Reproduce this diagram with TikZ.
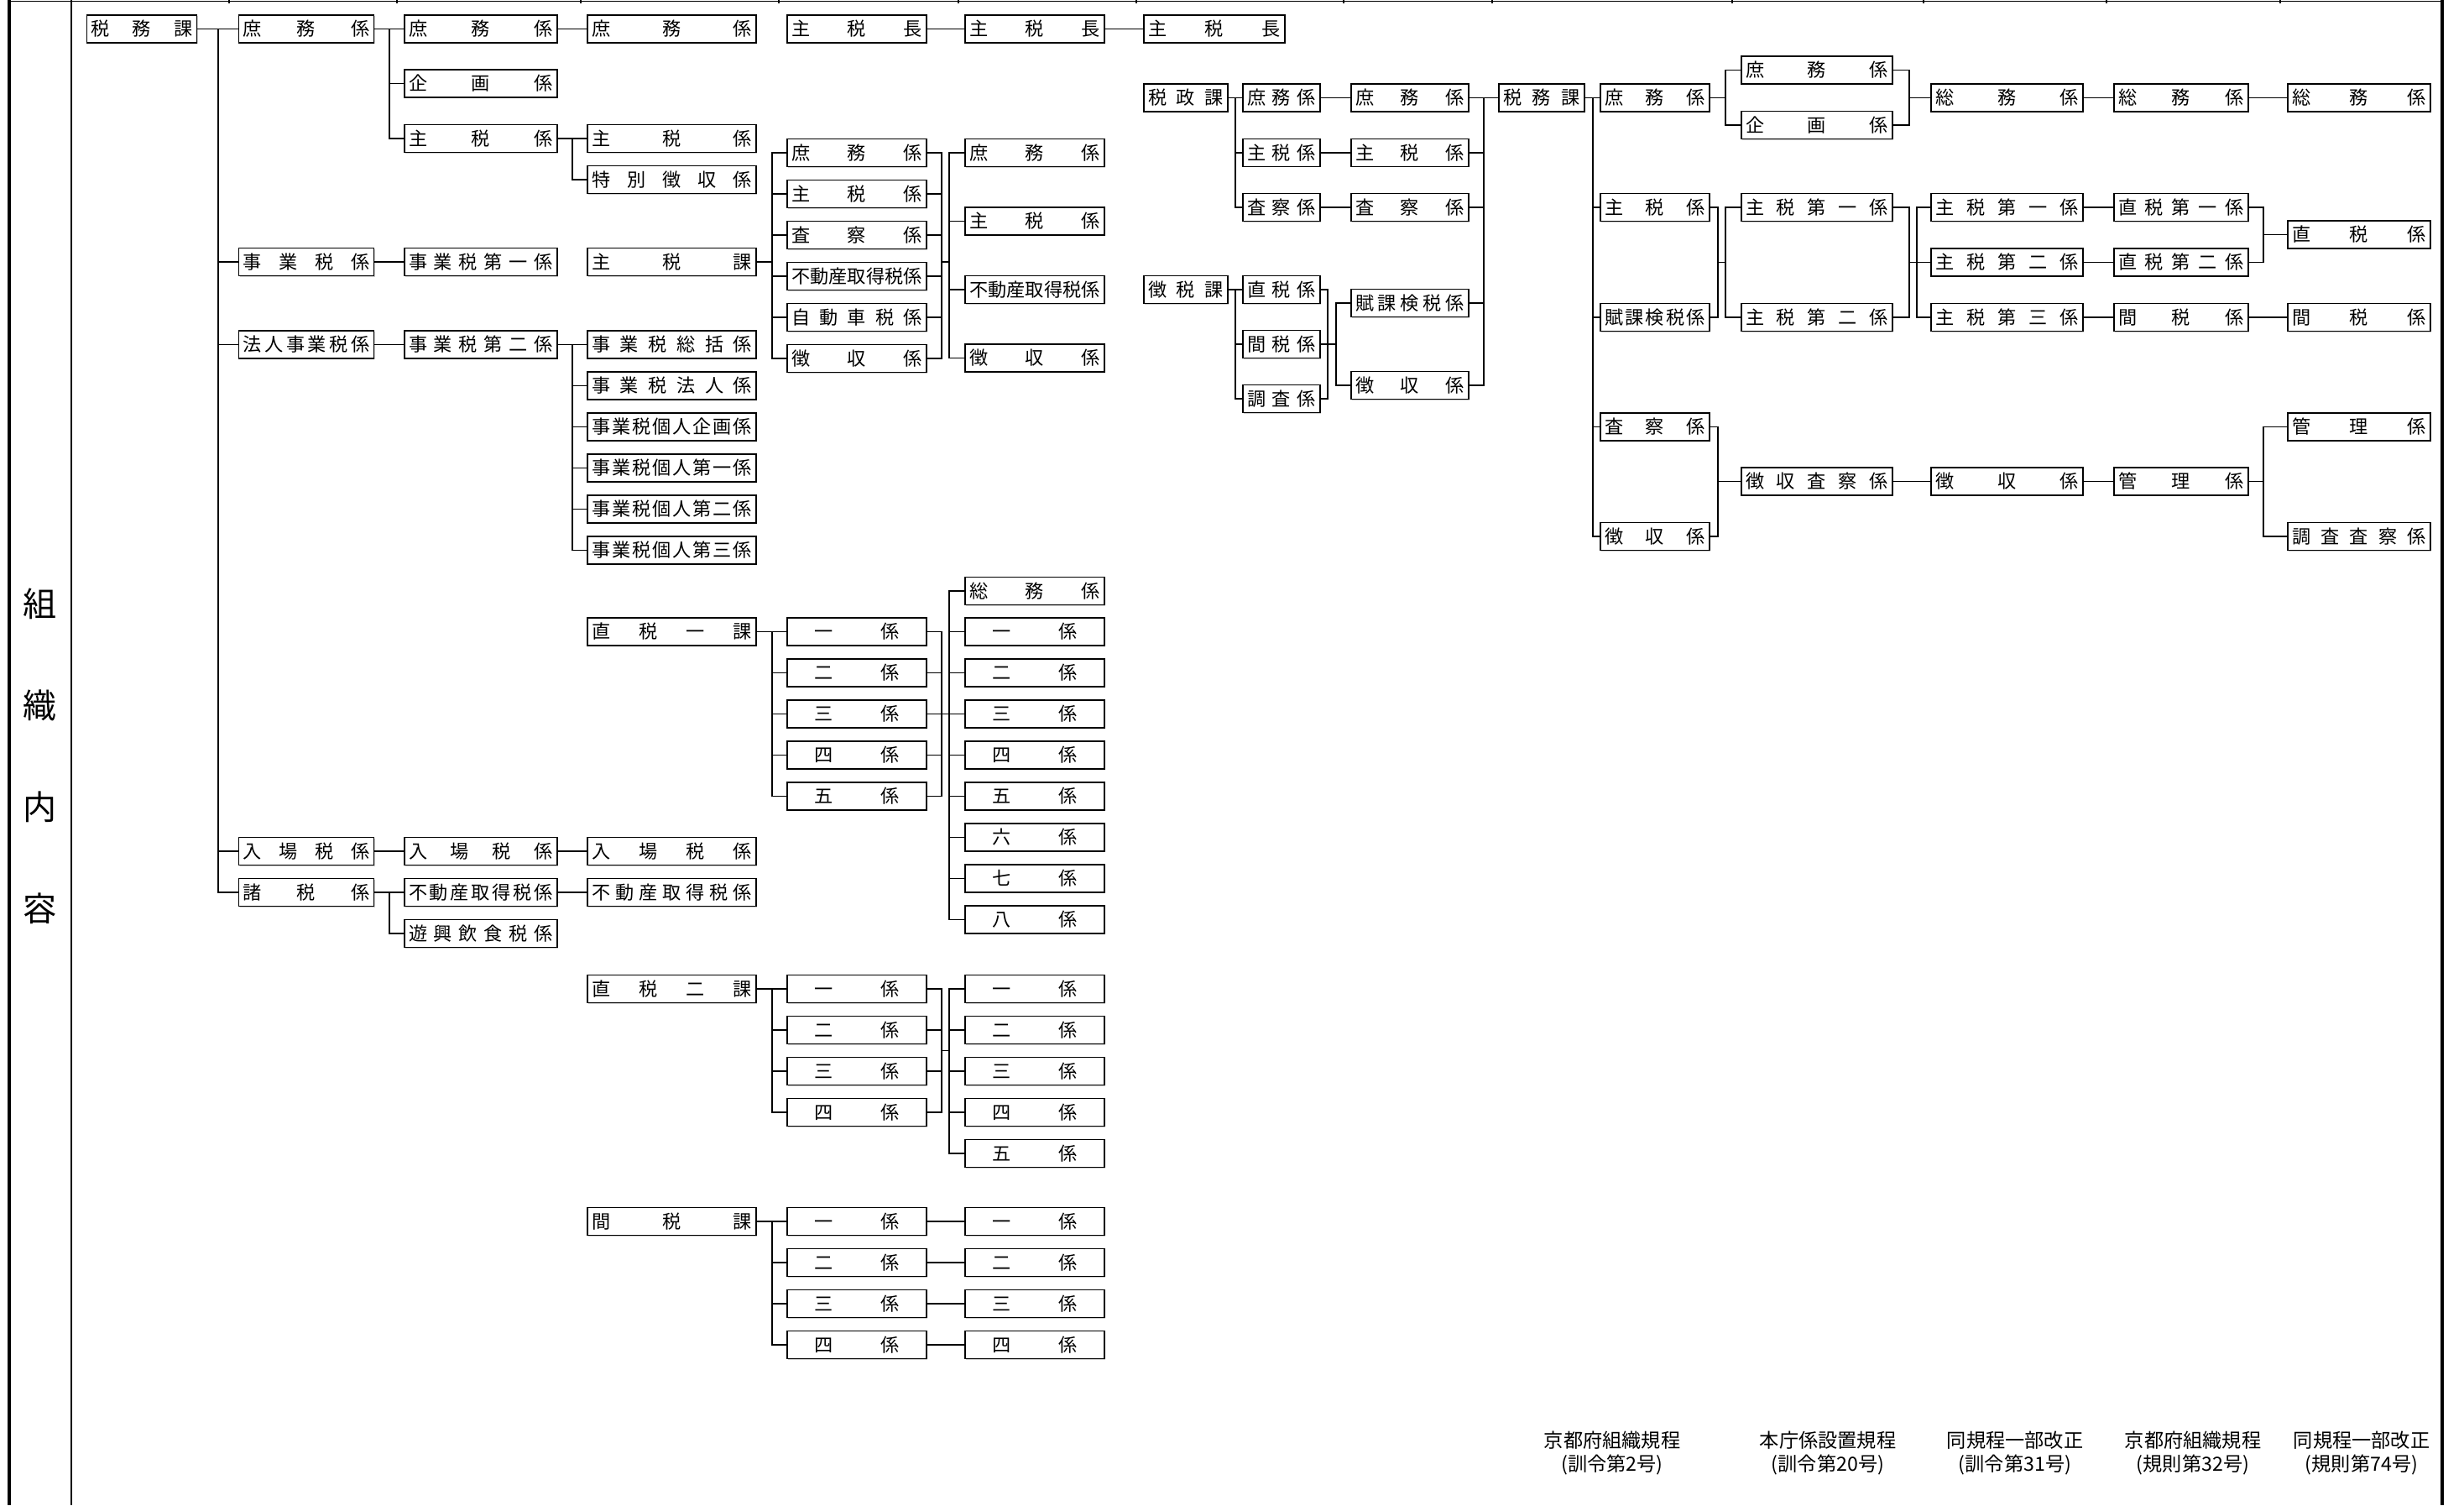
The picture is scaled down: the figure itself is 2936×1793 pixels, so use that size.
\documentclass[tikz,border=0pt]{standalone}
\usepackage{fontspec}
\setmainfont{Noto Sans CJK JP}
\usetikzlibrary{calc,shadows}
\newlength{\kkw}
\newcommand{\boxfont}{\fontsize{6.3pt}{7pt}\selectfont}
\newcommand{\sidefont}{\fontsize{11.4pt}{12pt}\selectfont}
\newcommand{\notefont}{\fontsize{6.6pt}{8pt}\selectfont}
% spread the characters of a name over the box
\makeatletter
\def\kt@loop#1{\ifx#1\relax\else\kt@gap#1\let\kt@gap\hfill\expandafter\kt@loop\fi}
\newcommand{\kintou}[2][\kkw]{\makebox[#1]{\let\kt@gap\relax\expandafter\kt@loop#2\relax}}
\makeatother
\tikzset{
  kk/.style={draw, fill=white, line width=.4pt, inner sep=0pt,
    minimum height=3.3mm, minimum width=#1, font=\boxfont,
    drop shadow={shadow xshift=.1mm, shadow yshift=-.1mm, fill=black!40},
    execute at begin node={\setlength{\kkw}{#1}\addtolength{\kkw}{-1mm}}},
  col1/.style={kk=13.1mm}, col2/.style={kk=16.1mm}, col3/.style={kk=18.2mm},
  col4/.style={kk=20.1mm}, col5/.style={kk=16.6mm}, col6/.style={kk=16.6mm},
  col7/.style={kk=16.8mm}, col7s/.style={kk=10mm}, col8/.style={kk=9.2mm},
  col9/.style={kk=14mm}, col10/.style={kk=10.2mm}, col11/.style={kk=13mm},
  col12/.style={kk=18mm}, col13/.style={kk=18.1mm}, col14/.style={kk=16mm},
  col15/.style={kk=17mm},
  ln/.style={line width=.5pt, line cap=rect},
  note/.style={align=center, font=\notefont, inner sep=0pt},
}
\begin{document}
\begin{tikzpicture}[x=0.1mm,y=-0.1mm]
  \useasboundingbox (0,0) rectangle (2936,1793);
  % frame
  \draw[line width=1pt] (11,0) -- (11,1793);
  \draw[line width=1pt] (2910,0) -- (2910,1793);
  \draw[line width=.45pt] (85,0) -- (85,1793);
  \draw[line width=.45pt] (11,1.5) -- (2910,1.5);
  \foreach \x in {273,473,692,928,1142,1354,1601,1778,2064,2292,2510,2717}
    \draw[line width=.45pt] (\x,0) -- (\x,4);
  \foreach \c [count=\i] in {組,織,内,容}
    \node[font=\sidefont] (side\i) at (48,{719+121*(\i-1)}) {\c};

  % column 1
  \node[col1] (A1) at (169,34.5) {\kintou{税務課}};
  % column 2
  \node[col2] (B1) at (365,34.5) {\kintou{庶務係}};
  \node[col2] (B2) at (365,312) {\kintou{事業税係}};
  \node[col2] (B3) at (365,410.5) {\kintou{法人事業税係}};
  \node[col2] (B4) at (365,1014) {\kintou{入場税係}};
  \node[col2] (B5) at (365,1063) {\kintou{諸税係}};
  % column 3
  \node[col3] (C1) at (573,34.5) {\kintou{庶務係}};
  \node[col3] (C2) at (573,99.5) {\kintou{企画係}};
  \node[col3] (C3) at (573,165) {\kintou{主税係}};
  \node[col3] (C4) at (573,312) {\kintou{事業税第一係}};
  \node[col3] (C5) at (573,410.5) {\kintou{事業税第二係}};
  \node[col3] (C6) at (573,1014) {\kintou{入場税係}};
  \node[col3] (C7) at (573,1063) {\kintou{不動産取得税係}};
  \node[col3] (C8) at (573,1112) {\kintou{遊興飲食税係}};
  % column 4
  \node[col4] (D1) at (800.5,34.5) {\kintou{庶務係}};
  \node[col4] (D2) at (800.5,165) {\kintou{主税係}};
  \node[col4] (D3) at (800.5,214) {\kintou{特別徴収係}};
  \node[col4] (D4) at (800.5,312) {\kintou{主税課}};
  \foreach \nm [count=\i] in {事業税総括係,事業税法人係,事業税個人企画係,事業税個人第一係,事業税個人第二係,事業税個人第三係}
    \node[col4] (W\i) at (800.5,{410.5+49*(\i-1)}) {\kintou{\nm}};
  \node[col4] (D5) at (800.5,752.5) {\kintou{直税一課}};
  \node[col4] (D6) at (800.5,1014) {\kintou{入場税係}};
  \node[col4] (D7) at (800.5,1063) {\kintou{不動産取得税係}};
  \node[col4] (D8) at (800.5,1178) {\kintou{直税二課}};
  \node[col4] (D9) at (800.5,1455) {\kintou{間税課}};
  % column 5
  \node[col5] (E0) at (1021,34.5) {\kintou{主税長}};
  \foreach \nm [count=\i] in {庶務係,主税係,査察係,不動産取得税係,自動車税係,徴収係}
    \node[col5] (E\i) at (1021,{182+49*(\i-1)}) {\kintou{\nm}};
  \foreach \nm [count=\i] in {一,二,三,四,五}
    \node[col5] (P\i) at (1021,{752.5+49*(\i-1)}) {\kintou[10.1mm]{\nm 係}};
  \foreach \nm [count=\i] in {一,二,三,四}
    \node[col5] (R\i) at (1021,{1178+49*(\i-1)}) {\kintou[10.1mm]{\nm 係}};
  \foreach \nm [count=\i] in {一,二,三,四}
    \node[col5] (T\i) at (1021,{1455+49*(\i-1)}) {\kintou[10.1mm]{\nm 係}};
  % column 6
  \node[col6] (F0) at (1233,34.5) {\kintou{主税長}};
  \foreach \nm [count=\i] in {庶務係,主税係,不動産取得税係,徴収係}
    \node[col6] (F\i) at (1233,{182+81.5*(\i-1)}) {\kintou{\nm}};
  \node[col6] (Q0) at (1233,704) {\kintou{総務係}};
  \foreach \nm [count=\i] in {一,二,三,四,五,六,七,八}
    \node[col6] (Q\i) at (1233,{752.5+49*(\i-1)}) {\kintou[10.1mm]{\nm 係}};
  \foreach \nm [count=\i] in {一,二,三,四,五}
    \node[col6] (S\i) at (1233,{1178+49*(\i-1)}) {\kintou[10.1mm]{\nm 係}};
  \foreach \nm [count=\i] in {一,二,三,四}
    \node[col6] (U\i) at (1233,{1455+49*(\i-1)}) {\kintou[10.1mm]{\nm 係}};
  % column 7
  \node[col7] (G0) at (1447,34.5) {\kintou{主税長}};
  \node[col7s] (G1) at (1413,116.5) {\kintou{税政課}};
  \node[col7s] (G2) at (1413,345) {\kintou{徴税課}};
  % column 8
  \foreach \nm [count=\i] in {庶務係,主税係,査察係}
    \node[col8] (H\i) at (1527,{116.5+65.25*(\i-1)}) {\kintou{\nm}};
  \foreach \nm [count=\i from 4] in {直税係,間税係,調査係}
    \node[col8] (H\i) at (1527,{345+65*(\i-4)}) {\kintou{\nm}};
  % column 9
  \foreach \nm [count=\i] in {庶務係,主税係,査察係}
    \node[col9] (I\i) at (1680,{116.5+65.25*(\i-1)}) {\kintou{\nm}};
  \node[col9] (I4) at (1680,361) {\kintou{賦課検税係}};
  \node[col9] (I5) at (1680,459) {\kintou{徴収係}};
  % column 10
  \node[col10] (J1) at (1837,116.5) {\kintou{税務課}};
  % column 11
  \node[col11] (K1) at (1972,116.5) {\kintou{庶務係}};
  \node[col11] (K2) at (1972,247) {\kintou{主税係}};
  \node[col11] (K3) at (1972,378) {\kintou{賦課検税係}};
  \node[col11] (K4) at (1972,508.5) {\kintou{査察係}};
  \node[col11] (K5) at (1972,639) {\kintou{徴収係}};
  % column 12
  \node[col12] (L1) at (2165,83.5) {\kintou{庶務係}};
  \node[col12] (L2) at (2165,149) {\kintou{企画係}};
  \node[col12] (L3) at (2165,247) {\kintou{主税第一係}};
  \node[col12] (L4) at (2165,378) {\kintou{主税第二係}};
  \node[col12] (L5) at (2165,573.5) {\kintou{徴収査察係}};
  % column 13
  \node[col13] (M1) at (2391.5,116.5) {\kintou{総務係}};
  \node[col13] (M2) at (2391.5,247) {\kintou{主税第一係}};
  \node[col13] (M3) at (2391.5,312.5) {\kintou{主税第二係}};
  \node[col13] (M4) at (2391.5,378) {\kintou{主税第三係}};
  \node[col13] (M5) at (2391.5,573.5) {\kintou{徴収係}};
  % column 14
  \node[col14] (N1) at (2599,116.5) {\kintou{総務係}};
  \node[col14] (N2) at (2599,247) {\kintou{直税第一係}};
  \node[col14] (N3) at (2599,312.5) {\kintou{直税第二係}};
  \node[col14] (N4) at (2599,378) {\kintou{間税係}};
  \node[col14] (N5) at (2599,573.5) {\kintou{管理係}};
  % column 15
  \node[col15] (O1) at (2811,116.5) {\kintou{総務係}};
  \node[col15] (O2) at (2811,279.5) {\kintou{直税係}};
  \node[col15] (O3) at (2811,378) {\kintou{間税係}};
  \node[col15] (O4) at (2811,508.5) {\kintou{管理係}};
  \node[col15] (O5) at (2811,639) {\kintou{調査査察係}};

  % notes under the columns
  \node[note] (ft1) at (1921,1731) {京都府組織規程\\(訓令第2号)};
  \node[note] (ft2) at (2178,1731) {本庁係設置規程\\(訓令第20号)};
  \node[note] (ft3) at (2401,1731) {同規程一部改正\\(訓令第31号)};
  \node[note] (ft4) at (2613,1731) {京都府組織規程\\(規則第32号)};
  \node[note] (ft5) at (2814,1731) {同規程一部改正\\(規則第74号)};

  % trunk lines
  \coordinate (tA) at (260,0);  \coordinate (tB) at (464,0);
  \coordinate (tC) at (682,0);  \coordinate (tD) at (920,0);
  \coordinate (mE) at (1122,0); \coordinate (mF) at (1131,0);
  \coordinate (tG) at (1472,0); \coordinate (mH) at (1582,0);
  \coordinate (mI) at (1592,0); \coordinate (mJ) at (1768,0);
  \coordinate (tJ) at (1898,0); \coordinate (mK) at (2047,0);
  \coordinate (tK) at (2056,0); \coordinate (mL) at (2275,0);
  \coordinate (tL) at (2284,0); \coordinate (mN) at (2697,0);

  % 税務課 -> col 2
  \draw[ln] (A1.east) -- (B1.west);
  \draw[ln] (tA |- B1.west) -- (tA |- B5.west);
  \foreach \n in {B2,B3,B4,B5} \draw[ln] (tA |- \n.west) -- (\n.west);
  % col 2 -> col 3
  \draw[ln] (B1.east) -- (C1.west);
  \draw[ln] (tB |- C1.west) -- (tB |- C3.west);
  \foreach \n in {C2,C3} \draw[ln] (tB |- \n.west) -- (\n.west);
  \draw[ln] (B2.east) -- (C4.west);
  \draw[ln] (B3.east) -- (C5.west);
  \draw[ln] (B4.east) -- (C6.west);
  \draw[ln] (B5.east) -- (C7.west);
  \draw[ln] (tB |- C7.west) |- (C8.west);
  % col 3 -> col 4
  \draw[ln] (C1.east) -- (D1.west);
  \draw[ln] (C3.east) -- (D2.west);
  \draw[ln] (tC |- D2.west) |- (D3.west);
  \draw[ln] (C5.east) -- (W1.west);
  \draw[ln] (tC |- W1.west) |- (W6.west);
  \foreach \i in {2,...,5} \draw[ln] (tC |- W\i.west) -- (W\i.west);
  \draw[ln] (C6.east) -- (D6.west);
  \draw[ln] (C7.east) -- (D7.west);
  % 主税長
  \draw[ln] (E0.east) -- (F0.west);
  \draw[ln] (F0.east) -- (G0.west);
  % 主税課
  \draw[ln] (D4.east) -- (tD |- D4.east);
  \draw[ln] (tD |- E1.west) -- (tD |- E6.west);
  \foreach \i in {1,...,6} {
    \draw[ln] (tD |- E\i.west) -- (E\i.west);
    \draw[ln] (E\i.east) -- (mE |- E\i.east);
  }
  \draw[ln] (mE |- E1.east) -- (mE |- E6.east);
  \draw[ln] (mE |- D4.east) -- (mF |- D4.east);
  \draw[ln] (mF |- F1.west) -- (mF |- F4.west);
  \foreach \i in {1,...,4} \draw[ln] (mF |- F\i.west) -- (F\i.west);
  % 直税一課
  \draw[ln] (D5.east) -- (tD |- D5.east);
  \draw[ln] (tD |- P1.west) -- (tD |- P5.west);
  \foreach \i in {1,...,5} {
    \draw[ln] (tD |- P\i.west) -- (P\i.west);
    \draw[ln] (P\i.east) -- (mE |- P\i.east);
  }
  \draw[ln] (mE |- P1.east) -- (mE |- P5.east);
  \draw[ln] (mE |- P3.east) -- (mF |- P3.east);
  \draw[ln] (mF |- Q0.west) -- (mF |- Q8.west);
  \foreach \i in {0,...,8} \draw[ln] (mF |- Q\i.west) -- (Q\i.west);
  % 直税二課
  \draw[ln] (D8.east) -- (tD |- D8.east);
  \draw[ln] (tD |- R1.west) -- (tD |- R4.west);
  \foreach \i in {1,...,4} {
    \draw[ln] (tD |- R\i.west) -- (R\i.west);
    \draw[ln] (R\i.east) -- (mE |- R\i.east);
  }
  \draw[ln] (mE |- R1.east) -- (mE |- R4.east);
  \coordinate (jR) at ($(R2.east)!.5!(R3.east)$);
  \draw[ln] (mE |- jR) -- (mF |- jR);
  \draw[ln] (mF |- S1.west) -- (mF |- S5.west);
  \foreach \i in {1,...,5} \draw[ln] (mF |- S\i.west) -- (S\i.west);
  % 間税課
  \draw[ln] (D9.east) -- (tD |- D9.east);
  \draw[ln] (tD |- T1.west) -- (tD |- T4.west);
  \foreach \i in {1,...,4} {
    \draw[ln] (tD |- T\i.west) -- (T\i.west);
    \draw[ln] (T\i.east) -- (U\i.west);
  }
  % 税政課・徴税課
  \draw[ln] (G1.east) -- (H1.west);
  \draw[ln] (tG |- H1.west) |- (H3.west);
  \draw[ln] (tG |- H2.west) -- (H2.west);
  \draw[ln] (G2.east) -- (H4.west);
  \draw[ln] (tG |- H4.west) |- (H6.west);
  \draw[ln] (tG |- H5.west) -- (H5.west);
  \foreach \i in {1,2,3} \draw[ln] (H\i.east) -- (I\i.west);
  \foreach \i in {4,5,6} \draw[ln] (H\i.east) -- (mH |- H\i.east);
  \draw[ln] (mH |- H4.east) -- (mH |- H6.east);
  \draw[ln] (mH |- H5.east) -- (mI |- H5.east);
  \draw[ln] (mI |- I4.west) |- (I5.west);
  \draw[ln] (mI |- I4.west) -- (I4.west);
  \foreach \i in {1,...,5} \draw[ln] (I\i.east) -- (mJ |- I\i.east);
  \draw[ln] (mJ |- I1.east) -- (mJ |- I5.east);
  \draw[ln] (mJ |- J1.west) -- (J1.west);
  % 税務課 (col 10) -> col 11
  \draw[ln] (J1.east) -- (K1.west);
  \draw[ln] (tJ |- K1.west) |- (K5.west);
  \foreach \i in {2,3,4} \draw[ln] (tJ |- K\i.west) -- (K\i.west);
  % 庶務係 -> 総務係
  \draw[ln] (K1.east) -- (tK |- K1.east);
  \draw[ln] (tK |- L1.west) |- (L2.west);
  \draw[ln] (tK |- L1.west) -- (L1.west);
  \foreach \i in {1,2} \draw[ln] (L\i.east) -- (mL |- L\i.east);
  \draw[ln] (mL |- L1.east) -- (mL |- L2.east);
  \draw[ln] (mL |- M1.west) -- (M1.west);
  \draw[ln] (M1.east) -- (N1.west);
  \draw[ln] (N1.east) -- (O1.west);
  % 主税係・賦課検税係
  \foreach \i in {2,3} \draw[ln] (K\i.east) -- (mK |- K\i.east);
  \draw[ln] (mK |- K2.east) -- (mK |- K3.east);
  \draw[ln] (mK |- M3.west) -- (tK |- M3.west);
  \draw[ln] (tK |- L3.west) |- (L4.west);
  \draw[ln] (tK |- L3.west) -- (L3.west);
  \foreach \i in {3,4} \draw[ln] (L\i.east) -- (mL |- L\i.east);
  \draw[ln] (mL |- L3.east) -- (mL |- L4.east);
  \draw[ln] (mL |- M3.west) -- (tL |- M3.west);
  \draw[ln] (tL |- M2.west) |- (M4.west);
  \foreach \i in {2,3} \draw[ln] (tL |- M\i.west) -- (M\i.west);
  \foreach \i in {2,3,4} \draw[ln] (M\i.east) -- (N\i.west);
  \foreach \i in {2,3} \draw[ln] (N\i.east) -- (mN |- N\i.east);
  \draw[ln] (mN |- N2.east) -- (mN |- N3.east);
  \draw[ln] (mN |- O2.west) -- (O2.west);
  \draw[ln] (N4.east) -- (O3.west);
  % 査察係・徴収係
  \foreach \i in {4,5} \draw[ln] (K\i.east) -- (mK |- K\i.east);
  \draw[ln] (mK |- K4.east) -- (mK |- K5.east);
  \draw[ln] (mK |- L5.west) -- (L5.west);
  \draw[ln] (L5.east) -- (M5.west);
  \draw[ln] (M5.east) -- (N5.west);
  \draw[ln] (N5.east) -- (mN |- N5.east);
  \draw[ln] (mN |- O4.west) |- (O5.west);
  \draw[ln] (mN |- O4.west) -- (O4.west);
\end{tikzpicture}
\end{document}
